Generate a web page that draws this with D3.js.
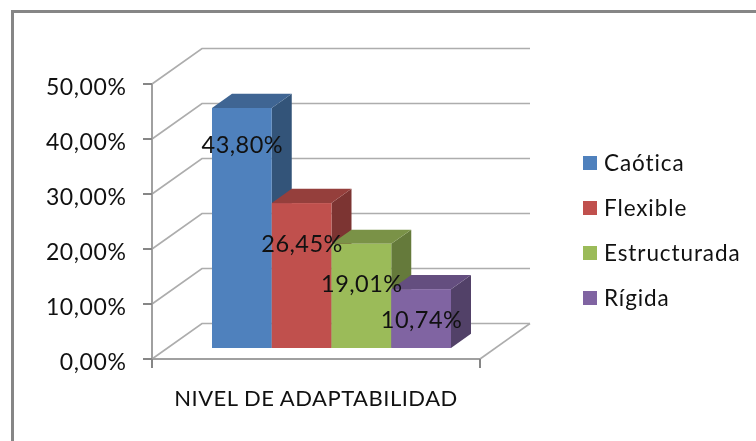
<!DOCTYPE html>
<html><head><meta charset="utf-8">
<script src="https://cdn.jsdelivr.net/npm/d3@7"></script>
<style>html,body{margin:0;padding:0;background:#fff;overflow:hidden}svg{display:block;filter:blur(0.4px)}text{font-family:Lato,sans-serif;fill:#111}</style>
</head><body><svg id="c" width="756" height="441"></svg>
<script>
const seriesNames = ["Caótica","Flexible","Estructurada","Rígida"];
const seriesValues = [43.80,26.45,19.01,10.74];
const valueLabels = ["43,80%","26,45%","19,01%","10,74%"];
const colors = ["#4f81bd","#c0504d","#9bbb59","#8064a2"];
const topColors = ["#3f6593","#953f3c","#7a9247","#644e7f"];
const sideColors = ["#335479","#7c3432","#657a3b","#524168"];
const tickValues = [0,10,20,30,40,50];
const tickLabels = ["0,00%","10,00%","20,00%","30,00%","40,00%","50,00%"];
const categoryLabel = "NIVEL DE ADAPTABILIDAD";

const svg = d3.select("#c");
const y = d3.scaleLinear().domain([0,50]).range([359,84]);
const x = d3.scaleBand().domain(seriesNames).range([212,451]);
// depth axis: 0 = front of floor, 1 = back wall
const depthX = d3.scaleLinear().domain([0,1]).range([0,50]);
const depthY = d3.scaleLinear().domain([0,1]).range([0,-35.5]);
const barFront = 0.22, barBack = 0.62;
const x0 = 152, x1 = 480;
const pt = (px,v,d)=>[px+depthX(d), y(v)+depthY(d)];
const line = d3.line();

// frame: top and left edges only, the right and bottom are cropped away
svg.append("path").attr("fill","none").attr("stroke","#868686").attr("stroke-width",3)
  .attr("d",line([[12.5,441],[12.5,11.5],[756,11.5]]));

const plot = svg.append("g");
// gridlines on side and back walls
tickValues.forEach(v=>{
  plot.append("path").attr("fill","none").attr("stroke","#adadad").attr("stroke-width",1.7)
    .attr("d",line([pt(x0,v,0),pt(x0,v,1),pt(x1,v,1)]));
});
// floor front right edge
plot.append("path").attr("fill","none").attr("stroke","#adadad").attr("stroke-width",1.7)
  .attr("d",line([pt(x1,0,0),pt(x1,0,1)]));
// axes
plot.append("path").attr("fill","none").attr("stroke","#a0a0a0").attr("stroke-width",2)
  .attr("d",line([[x0,y(50)],[x0,y(0)],[x1,y(0)]]));
plot.selectAll(".yt").data(tickValues).join("line").attr("class","yt")
  .attr("x1",x0-9).attr("x2",x0).attr("y1",d=>y(d)).attr("y2",d=>y(d))
  .attr("stroke","#868686").attr("stroke-width",2);
[x0,x1].forEach(px=>plot.append("line").attr("x1",px).attr("x2",px).attr("y1",y(0)).attr("y2",y(0)+9)
  .attr("stroke","#868686").attr("stroke-width",2));
plot.selectAll(".yl").data(tickValues).join("text").attr("class","yl")
  .attr("x",126.5).attr("y",d=>y(d)+2.5).attr("dy","0.36em").attr("text-anchor","end")
  .attr("font-size",23).attr("letter-spacing",0.6).text((d,i)=>tickLabels[i]);
plot.append("text").attr("x",316).attr("y",406).attr("text-anchor","middle").attr("font-size",22)
  .attr("letter-spacing",0.5).attr("fill","#222").text(categoryLabel);

// bars
const bars = plot.selectAll(".bar").data(seriesNames).join("g").attr("class","bar");
const fy = d3.scaleLinear().domain([0,43.8]).range([348,108]);
const dd = {x:depthX(barBack)-depthX(barFront), y:depthY(barBack)-depthY(barFront)};
bars.each(function(name,i){
  const g=d3.select(this), l=x(name), r=l+x.bandwidth(), t=fy(seriesValues[i]), b=fy(0);
  g.append("path").attr("fill",sideColors[i]).attr("d",line([[r,t],[r+dd.x,t+dd.y],[r+dd.x,b+dd.y],[r,b]])+"Z");
  g.append("path").attr("fill",topColors[i]).attr("d",line([[l,t],[l+dd.x,t+dd.y],[r+dd.x,t+dd.y],[r,t]])+"Z");
  g.append("rect").attr("x",l).attr("y",t).attr("width",x.bandwidth()).attr("height",b-t).attr("fill",colors[i]);
});
// data labels
plot.selectAll(".dl").data(seriesNames).join("text").attr("class","dl")
  .attr("x",(d,i)=>x(d)+x.bandwidth()/2+0.5).attr("y",(d,i)=>fy(seriesValues[i])+[37,40,40,30][i])
  .attr("dy","0.36em").attr("text-anchor","middle").attr("font-size",23.5).attr("letter-spacing",0.5).text((d,i)=>valueLabels[i]);

// legend
const ly = d3.scalePoint().domain(seriesNames).range([163,298]);
const lg = svg.selectAll(".lg").data(seriesNames).join("g").attr("class","lg").attr("transform",d=>`translate(583,${ly(d)})`);
lg.append("rect").attr("x",0).attr("y",-7).attr("width",14).attr("height",14).attr("fill",(d,i)=>colors[i]);
lg.append("text").attr("x",21).attr("dy","0.36em").attr("font-size",22.5).attr("letter-spacing",0.9).text(d=>d);
</script></body></html>
